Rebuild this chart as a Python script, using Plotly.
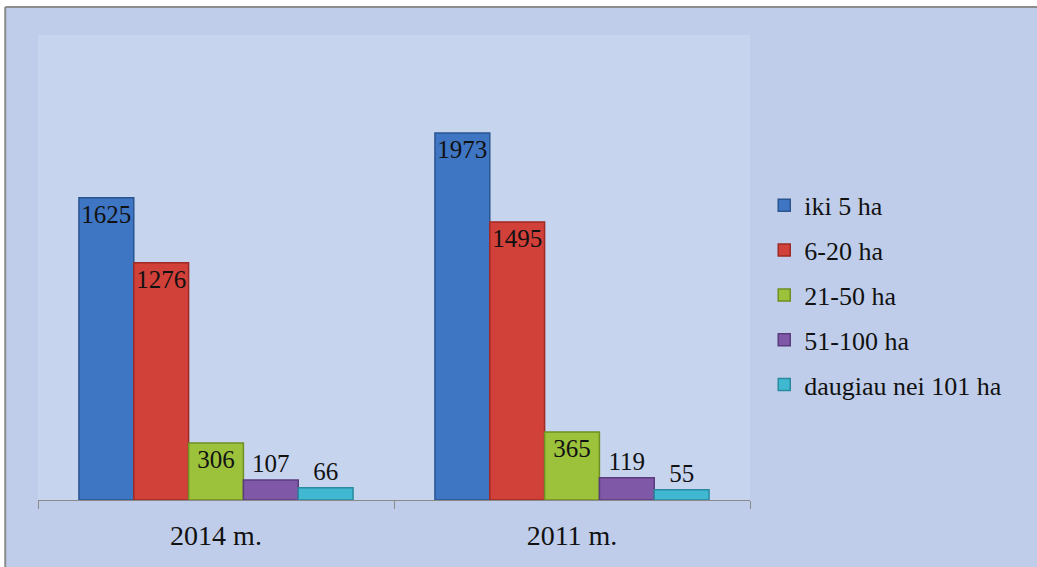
import plotly.graph_objects as go

categories = ["2014 m.", "2011 m."]
series_names = ["iki 5 ha", "6-20 ha", "21-50 ha", "51-100 ha", "daugiau nei 101 ha"]
iki5 = [1625, 1973]
ha6_20 = [1276, 1495]
ha21_50 = [306, 365]
ha51_100 = [107, 119]
ha101 = [66, 55]

values = [iki5, ha6_20, ha21_50, ha51_100, ha101]
colors = ["#3f76c4", "#d2403a", "#9cc23c", "#8058a8", "#40b8d2"]
edges = ["#2a5590", "#9e2a25", "#6f8f22", "#5a3c7c", "#2a8aa0"]
positions = [["inside", "inside"], ["inside", "inside"], ["inside", "inside"],
             ["outside", "outside"], ["outside", "outside"]]

SERIF = "Liberation Serif"

fig = go.Figure()
for name, vals, c, e, pos in zip(series_names, values, colors, edges, positions):
    fig.add_trace(go.Bar(
        x=categories, y=vals, name=name, legendgroup=name,
        marker=dict(color=c, line=dict(color=e, width=1.5)),
        text=[str(v) for v in vals], textposition=pos,
        insidetextanchor="end", textangle=0,
        textfont=dict(family=SERIF, size=25, color="#111"),
        insidetextfont=dict(family=SERIF, size=25, color="#111"),
        outsidetextfont=dict(family=SERIF, size=25, color="#111"),
        constraintext="none", cliponaxis=False,
    ))

fig.update_layout(
    template="none",
    width=1037, height=567,
    margin=dict(l=38, r=287, t=35, b=67),
    paper_bgcolor="#bfcdea", plot_bgcolor="#c6d4ee",
    barmode="group", bargap=0.23, bargroupgap=0,
    font=dict(family=SERIF, size=20, color="#111"),
    showlegend=True,
    legend=dict(x=1.02, y=0.44, xanchor="left", yanchor="middle",
                bgcolor="rgba(0,0,0,0)", tracegroupgap=8, itemwidth=30,
                font=dict(family=SERIF, size=26, color="#111")),
    xaxis=dict(showline=True, linecolor="#8a8a8a", linewidth=1, ticks="outside",
               tickson="boundaries", ticklen=8, tickcolor="#8a8a8a",
               ticklabelstandoff=10, showgrid=False, zeroline=False,
               tickfont=dict(family=SERIF, size=28, color="#111")),
    yaxis=dict(range=[0, 2500], visible=False, showgrid=False, zeroline=False),
    shapes=[
        dict(type="rect", xref="paper", yref="paper", x0=-0.2, x1=-0.046, y0=-0.3, y1=1.2,
             line=dict(width=0), fillcolor="#ffffff", layer="above"),
        dict(type="rect", xref="paper", yref="paper", x0=-0.2, x1=1.5, y0=1.06, y1=1.2,
             line=dict(width=0), fillcolor="#ffffff", layer="above"),
        dict(type="line", xref="paper", yref="paper", x0=-0.046, x1=-0.046, y0=-0.3, y1=1.06,
             line=dict(color="#8c8c8c", width=2), layer="above"),
        dict(type="line", xref="paper", yref="paper", x0=-0.046, x1=1.5, y0=1.06, y1=1.06,
             line=dict(color="#8c8c8c", width=2), layer="above"),
    ],
)

fig.write_html("out.html", config={"displayModeBar": False},
               post_script="document.body.style.margin='0';")
